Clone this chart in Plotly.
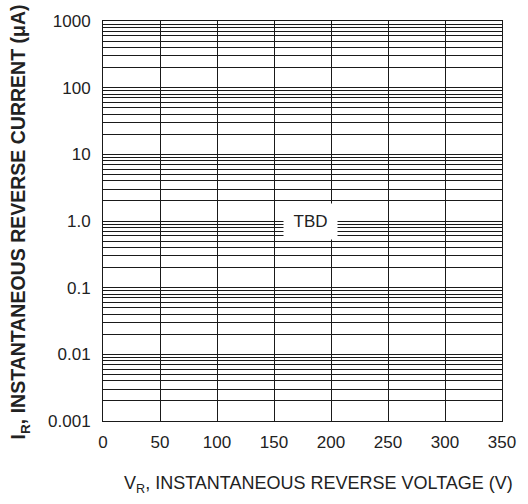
import plotly.graph_objects as go

# Axis definitions
x_ticks = [0, 50, 100, 150, 200, 250, 300, 350]
y_ticks = [0.001, 0.01, 0.1, 1, 10, 100, 1000]
y_tick_labels = ["0.001", "0.01", "0.1", "1.0", "10", "100", "1000"]
minor_mults = [2, 3, 4, 5, 6, 7, 8, 9]
note_text = "TBD"
note_x = 182
note_y_log = 0.0

y_minor = [m * d for d in y_ticks[:-1] for m in minor_mults]

FONT = "Liberation Sans, Arial, sans-serif"
GRID = "#1a1a1a"

fig = go.Figure()
fig.add_trace(go.Scatter(x=[], y=[], mode="lines", showlegend=False))

fig.update_layout(
    width=528, height=504,
    margin=dict(l=103, r=19, t=15, b=83),
    paper_bgcolor="white", plot_bgcolor="white",
    font=dict(family=FONT, color="#222", size=16),
    showlegend=False,
)

fig.update_xaxes(
    range=[0, 350], tickvals=x_ticks, ticks="", showgrid=True,
    gridcolor=GRID, gridwidth=1, zeroline=False,
    showline=True, linecolor=GRID, linewidth=1, mirror=True,
    tickfont=dict(size=17), ticklabelstandoff=6,
)
fig.update_yaxes(
    type="log", range=[-3, 3], tickvals=y_ticks, ticktext=y_tick_labels,
    ticks="", showgrid=True, gridcolor=GRID, gridwidth=1.3, zeroline=False,
    showline=True, linecolor=GRID, linewidth=1, mirror=True,
    tickfont=dict(size=17), ticklabelstandoff=8,
    minor=dict(tickmode="array", tickvals=y_minor, showgrid=True,
               gridcolor=GRID, gridwidth=1, ticks=""),
)

fig.add_annotation(
    x=note_x, y=note_y_log, xref="x", yref="y", text=note_text, showarrow=False,
    font=dict(size=17, family=FONT, color="#222"), bgcolor="white",
    width=41, height=23, borderpad=6,
)

fig.add_annotation(
    x=(322 - 103) / 406, y=-(485 - 421) / 406, xref="paper", yref="paper",
    xanchor="center", yanchor="middle",
    text="V<sub>R</sub>, INSTANTANEOUS REVERSE VOLTAGE (V)", showarrow=False,
    font=dict(size=18, family=FONT, color="#222"),
)
fig.add_annotation(
    x=(19 - 103) / 406, y=(421 - 219) / 406, xref="paper", yref="paper",
    xanchor="center", yanchor="middle",
    text="<b>I<sub>R</sub>, INSTANTANEOUS REVERSE CURRENT (μA)</b>", showarrow=False,
    textangle=-90, font=dict(size=19.5, family=FONT, color="#222"),
)

fig.write_html("out.html")
